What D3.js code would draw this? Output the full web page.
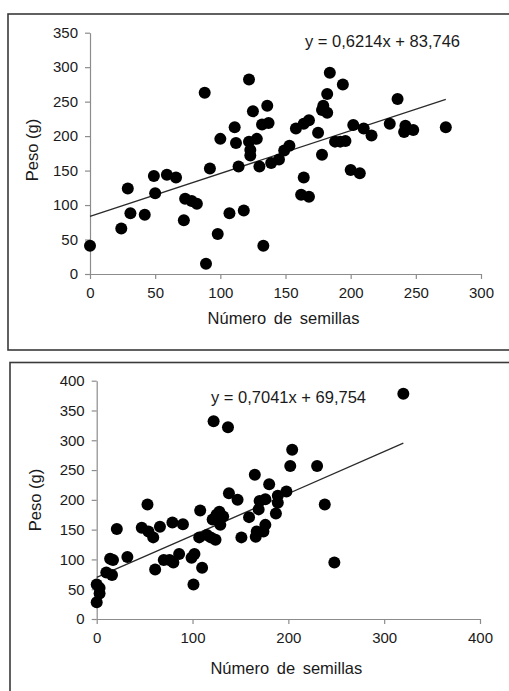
<!DOCTYPE html>
<html>
<head>
<meta charset="utf-8">
<script src="https://cdn.jsdelivr.net/npm/d3@7"></script>
<style>
  body { margin: 0; background: #fff; }
  svg text { font-family: "Liberation Sans", Arial, sans-serif; fill: #1a1a1a; }
  .axis path, .axis line { stroke: #8c8c8c; stroke-width: 1.2; }
</style>
</head>
<body>
<svg id="chart" width="509" height="691"></svg>
<script>
// panel 1 data
const seeds1 = [0, 24, 29, 31, 42, 49, 50, 59, 66, 72, 73, 78, 82, 88, 89, 92, 98, 100, 107, 111,
  112, 114, 118, 122, 122, 123, 123, 125, 128, 130, 132, 133, 136, 137, 139, 145, 149, 153, 158, 164,
  162, 164, 168, 168, 175, 178, 178, 179, 182, 182, 184, 188, 192, 194, 196, 200, 202, 207, 210, 216,
  230, 236, 241, 242, 248, 273];
const weight1 = [41, 66, 124, 88, 86, 142, 117, 144, 140, 78, 109, 106, 102, 263, 15, 153, 58, 196, 88, 213,
  190, 156, 92, 282, 192, 180, 172, 236, 196, 156, 217, 41, 244, 219, 161, 166, 179, 186, 211, 218,
  115, 140, 112, 223, 205, 238, 173, 244, 234, 261, 292, 192, 192, 275, 193, 151, 216, 146, 211, 201,
  218, 254, 206, 215, 209, 213];
const slope1 = 0.6214, intercept1 = 83.746;
const eq1 = "y = 0,6214x + 83,746";
const xTicks1 = [0, 50, 100, 150, 200, 250, 300];
const yTicks1 = [0, 50, 100, 150, 200, 250, 300, 350];

// panel 2 data
const seeds2 = [0, 0, 3, 3, 10, 14, 16, 17, 21, 32, 47, 53, 54, 59, 61, 66, 70, 76, 79, 80,
  86, 90, 99, 102, 101, 108, 107, 110, 115, 119, 122, 121, 124, 125, 128, 129, 132, 137, 138, 147,
  151, 159, 165, 166, 167, 169, 170, 174, 176, 176, 180, 187, 189, 189, 198, 202, 204, 230, 238, 248,
  320];
const weight2 = [28, 58, 52, 43, 78, 101, 74, 99, 151, 104, 153, 192, 147, 137, 83, 155, 99, 99, 162, 95,
  109, 159, 103, 109, 58, 182, 137, 86, 141, 137, 332, 167, 133, 175, 180, 158, 172, 322, 211, 200,
  137, 171, 242, 138, 147, 184, 198, 147, 158, 201, 226, 177, 195, 207, 214, 257, 284, 257, 192, 95,
  378];
const slope2 = 0.7041, intercept2 = 69.754;
const eq2 = "y = 0,7041x + 69,754";
const xTicks2 = [0, 100, 200, 300, 400];
const yTicks2 = [0, 50, 100, 150, 200, 250, 300, 350, 400];

const svg = d3.select("#chart");

const drawPanel = (opts) => {
  const g = svg.append("g");
  // frame (right / bottom edges run off the picture like the original crop)
  g.append("rect")
    .attr("x", opts.box[0]).attr("y", opts.box[1])
    .attr("width", opts.box[2]).attr("height", opts.box[3])
    .attr("fill", "#fff").attr("stroke", "#3a3a3a").attr("stroke-width", 1.6);

  const x = d3.scaleLinear().domain(opts.xDomain).range(opts.xRange);
  const y = d3.scaleLinear().domain(opts.yDomain).range(opts.yRange);

  g.append("g")
    .attr("class", "axis")
    .attr("transform", `translate(0,${opts.yRange[0]})`)
    .call(d3.axisBottom(x).tickValues(opts.xTicks).tickSize(5).tickPadding(5).tickSizeOuter(0))
    .call((a) => a.selectAll("text").attr("font-size", 15).attr("dy", "0.95em"));

  g.append("g")
    .attr("class", "axis")
    .attr("transform", `translate(${opts.xRange[0]},0)`)
    .call(d3.axisLeft(y).tickValues(opts.yTicks).tickSize(5).tickPadding(7).tickSizeOuter(0))
    .call((a) => a.selectAll("text").attr("font-size", 15));

  g.selectAll(".axis .domain").attr("stroke", "#8c8c8c");

  // trend line
  const xEnd = d3.max(opts.seeds);
  g.append("line")
    .attr("x1", x(0)).attr("y1", y(opts.intercept))
    .attr("x2", x(xEnd)).attr("y2", y(opts.slope * xEnd + opts.intercept))
    .attr("stroke", "#2a2a2a").attr("stroke-width", 1.3);

  g.selectAll("circle.pt")
    .data(opts.seeds.map((s, i) => [s, opts.weights[i]]))
    .enter()
    .append("circle")
    .attr("class", "pt")
    .attr("cx", (d) => x(d[0]))
    .attr("cy", (d) => y(d[1]))
    .attr("r", 6)
    .attr("fill", "#000");

  g.append("text")
    .attr("x", opts.eqPos[0]).attr("y", opts.eqPos[1])
    .attr("font-size", 16.5).attr("dy", "0.35em")
    .text(opts.eq);

  g.append("text")
    .attr("x", (opts.xRange[0] + opts.xRange[1]) / 2 - 2).attr("y", opts.xTitleY)
    .attr("text-anchor", "middle").attr("dy", "0.35em")
    .attr("font-size", 16.5).attr("word-spacing", 3)
    .text("Número de semillas");

  g.append("text")
    .attr("transform", `translate(${opts.yTitle[0]},${opts.yTitle[1]}) rotate(-90)`)
    .attr("text-anchor", "middle").attr("dy", "0.35em")
    .attr("font-size", 16.5)
    .text("Peso (g)");
};

drawPanel({
  box: [8, 14, 520, 336],
  xDomain: [0, 300], xRange: [90, 481],
  yDomain: [0, 350], yRange: [274, 32.7],
  xTicks: xTicks1, yTicks: yTicks1,
  seeds: seeds1, weights: weight1,
  slope: slope1, intercept: intercept1,
  eq: eq1, eqPos: [305, 41],
  xTitleY: 318, yTitle: [32, 150],
});

drawPanel({
  box: [10, 362.5, 520, 340],
  xDomain: [0, 400], xRange: [96.7, 480],
  yDomain: [0, 400], yRange: [619, 380.7],
  xTicks: xTicks2, yTicks: yTicks2,
  seeds: seeds2, weights: weight2,
  slope: slope2, intercept: intercept2,
  eq: eq2, eqPos: [211, 397],
  xTitleY: 668, yTitle: [35, 500],
});
</script>
</body>
</html>
